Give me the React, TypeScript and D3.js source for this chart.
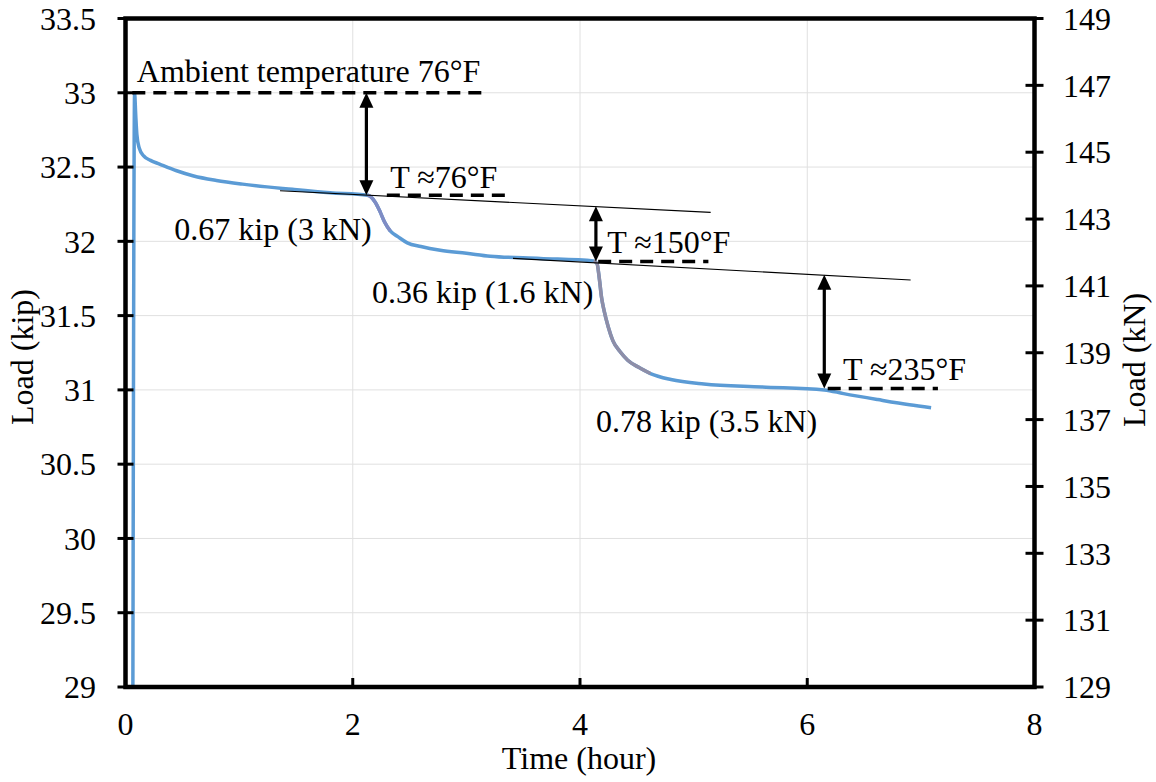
import React from "react";
import * as d3 from "d3";

// ---- data ----
const timeHr = [0.065, 0.08, 0.09, 0.1, 0.12, 0.16, 0.22, 0.3, 0.45, 0.6, 0.8, 1.03, 1.47, 1.8, 2.13, 2.16, 2.2, 2.24, 2.28, 2.33, 2.4, 2.48, 2.6, 2.77, 3.0, 3.21, 3.65, 4.12, 4.15, 4.17, 4.19, 4.21, 4.25, 4.29, 4.35, 4.42, 4.52, 4.62, 4.8, 5.09, 5.6, 6.15, 6.32, 6.62, 6.9, 7.09];
const loadKip = [29.0, 33.0, 32.85, 32.72, 32.63, 32.575, 32.545, 32.52, 32.475, 32.44, 32.41, 32.385, 32.35, 32.327, 32.31, 32.3, 32.26, 32.2, 32.13, 32.07, 32.03, 31.99, 31.965, 31.94, 31.92, 31.9, 31.885, 31.868, 31.85, 31.75, 31.62, 31.54, 31.42, 31.33, 31.26, 31.2, 31.15, 31.11, 31.07, 31.04, 31.02, 31.0, 30.975, 30.935, 30.9, 30.88];

// grey-tinted drop segments (time ranges)
const drop1 = [2.13, 2.33];
const drop2 = [4.12, 4.62];

const xTicks = [0, 2, 4, 6, 8];
const yTicksKip = [29, 29.5, 30, 30.5, 31, 31.5, 32, 32.5, 33, 33.5];
const yTicksKN = [129, 131, 133, 135, 137, 139, 141, 143, 145, 147, 149];

// trend lines [t0, v0, t1, v1]
const trend1 = [1.36, 32.34, 5.15, 32.195];
const trend2 = [3.41, 31.885, 6.91, 31.74];

// dashed reference lines [t0, t1, value]
const dashLines = [
  [0.06, 3.15, 33.0],
  [2.3, 3.34, 32.31],
  [4.16, 5.13, 31.865],
  [6.18, 7.15, 31.01],
];

// double arrows [t, vTop, vBottom]
const arrows = [
  [2.12, 33.0, 32.31],
  [4.14, 32.236, 31.865],
  [6.15, 31.775, 31.01],
];

// text labels [t, value, text] (anchor start at baseline)
const labels: [number, number, string][] = [
  [0.1, 33.07, "Ambient temperature 76°F"],
  [2.33, 32.36, "T ≈76°F"],
  [0.43, 32.01, "0.67 kip (3 kN)"],
  [4.24, 31.92, "T ≈150°F"],
  [2.17, 31.585, "0.36 kip (1.6 kN)"],
  [6.315, 31.065, "T ≈235°F"],
  [4.14, 30.715, "0.78 kip (3.5 kN)"],
];

const W = 1156;
const H = 782;
const FONT = "Liberation Serif, DejaVu Serif, serif";

export default function App() {
  const x = d3.scaleLinear().domain([0, 8]).range([125.5, 1034.5]);
  const y = d3.scaleLinear().domain([29, 33.5]).range([687, 18.5]);
  const y2 = d3.scaleLinear().domain([129, 149]).range([687, 18.5]);

  const pts = timeHr.map((t, i) => [t, loadKip[i]] as [number, number]);
  const line = d3
    .line<[number, number]>()
    .x((d) => x(d[0]))
    .y((d) => y(d[1]))
    .curve(d3.curveMonotoneX);

  const seg = (r: number[]) => pts.filter((p) => p[0] >= r[0] && p[0] <= r[1]);

  const fs = 32;
  const ts = { fontFamily: FONT, fontSize: fs };

  return (
    <svg width={W} height={H} style={{ position: "absolute", left: 0, top: 0, background: "#fff" }}>
      {/* gridlines */}
      {yTicksKip.filter((v) => v > 29 && v < 33.5).map((v) => (
        <line key={"gy" + v} x1={x(0)} x2={x(8)} y1={y(v)} y2={y(v)} stroke="#e0e0e0" strokeWidth={1} />
      ))}
      {xTicks.filter((v) => v > 0 && v < 8).map((v) => (
        <line key={"gx" + v} x1={x(v)} x2={x(v)} y1={y(33.5)} y2={y(29)} stroke="#e0e0e0" strokeWidth={1} />
      ))}

      {/* data curve */}
      <defs>
        <clipPath id="plot">
          <rect x={x(0)} y={y(33.5)} width={x(8) - x(0)} height={y(29) - y(33.5)} />
        </clipPath>
      </defs>
      <g clipPath="url(#plot)">
        <path d={line(pts) || ""} fill="none" stroke="#5b9bd5" strokeWidth={3.5} strokeLinejoin="round" />
        <path d={line(seg(drop1)) || ""} fill="none" stroke="#7f8cc4" strokeWidth={3.5} strokeLinejoin="round" />
        <path d={line(seg(drop2)) || ""} fill="none" stroke="#8e8ea8" strokeWidth={3.5} strokeLinejoin="round" />
      </g>

      {/* trend lines */}
      {[trend1, trend2].map((t, i) => (
        <line key={"tr" + i} x1={x(t[0])} y1={y(t[1])} x2={x(t[2])} y2={y(t[3])} stroke="#000" strokeWidth={1.1} />
      ))}

      {/* dashed lines */}
      {dashLines.map((d, i) => (
        <line key={"dl" + i} x1={x(d[0])} x2={x(d[1])} y1={y(d[2])} y2={y(d[2])} stroke="#000" strokeWidth={3.5} strokeDasharray="13,8" />
      ))}

      {/* arrows */}
      {arrows.map((a, i) => {
        const ax = x(a[0]);
        const yt = y(a[1]);
        const yb = y(a[2]);
        const hl = 15;
        const hw = 7;
        return (
          <g key={"ar" + i}>
            <line x1={ax} x2={ax} y1={yt + hl - 2} y2={yb - hl + 2} stroke="#000" strokeWidth={3.2} />
            <path d={`M${ax},${yt} L${ax - hw},${yt + hl} L${ax + hw},${yt + hl} Z`} fill="#000" />
            <path d={`M${ax},${yb} L${ax - hw},${yb - hl} L${ax + hw},${yb - hl} Z`} fill="#000" />
          </g>
        );
      })}

      {/* labels */}
      {labels.map((l, i) => (
        <text key={"lb" + i} x={x(l[0])} y={y(l[1])} style={ts} fill="#000">
          {l[2]}
        </text>
      ))}

      {/* frame */}
      <rect x={x(0)} y={y(33.5)} width={x(8) - x(0)} height={y(29) - y(33.5)} fill="none" stroke="#000" strokeWidth={4.5} />

      {/* left ticks */}
      {yTicksKip.map((v) => (
        <g key={"yl" + v}>
          <line x1={x(0) - 8} x2={x(0) + 8} y1={y(v)} y2={y(v)} stroke="#000" strokeWidth={3} />
          <text x={96} y={y(v)} dy="0.35em" textAnchor="end" style={ts} fill="#000">
            {v}
          </text>
        </g>
      ))}
      {/* right ticks */}
      {yTicksKN.map((v) => (
        <g key={"yr" + v}>
          <line x1={x(8) - 9} x2={x(8) + 9} y1={y2(v)} y2={y2(v)} stroke="#000" strokeWidth={3} />
          <text x={1063} y={y2(v)} dy="0.35em" textAnchor="start" style={ts} fill="#000">
            {v}
          </text>
        </g>
      ))}
      {/* x ticks */}
      {xTicks.map((v) => (
        <g key={"xt" + v}>
          {v > 0 && v < 8 && <line x1={x(v)} x2={x(v)} y1={y(29)} y2={y(29) - 9} stroke="#000" strokeWidth={3} />}
          <text x={x(v)} y={735} textAnchor="middle" style={ts} fill="#000">
            {v}
          </text>
        </g>
      ))}

      {/* axis titles */}
      <text x={579} y={769} textAnchor="middle" style={ts} fill="#000">
        Time (hour)
      </text>
      <text transform={`translate(33,357) rotate(-90)`} textAnchor="middle" style={ts} fill="#000">
        Load (kip)
      </text>
      <text transform={`translate(1145,360) rotate(-90)`} textAnchor="middle" style={ts} fill="#000">
        Load (kN)
      </text>
    </svg>
  );
}
